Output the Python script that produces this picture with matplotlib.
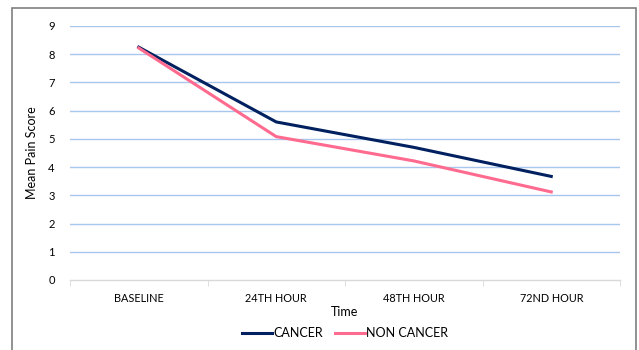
import matplotlib.pyplot as plt
from matplotlib.patches import Rectangle

plt.rcParams['font.family'] = ['Lato', 'DejaVu Sans']

# data
categories = ['BASELINE', '24TH HOUR', '48TH HOUR', '72ND HOUR']
cancer = [8.25, 5.6, 4.7, 3.67]
non_cancer = [8.22, 5.08, 4.22, 3.12]
yticks = list(range(0, 10))

W, H = 639, 350
fig = plt.figure(figsize=(W / 100, H / 100), dpi=100)
ax = fig.add_axes([70 / W, 1 - 280 / H, 550 / W, (280 - 26) / H])

# outer chart frame (bottom edge is cropped off in the reference)
fig.patches.append(Rectangle((12 / W, -0.05), 624 / W, 1.05 - 8.5 / H,
                             transform=fig.transFigure, fill=False,
                             edgecolor='#7f7f7f', linewidth=1.2))

x = list(range(len(categories)))
ax.plot(x, cancer, color='#002060', linewidth=2.2, label='CANCER', zorder=3)
ax.plot(x, non_cancer, color='#FF6A8F', linewidth=2.2, label='NON CANCER', zorder=3)

ax.set_xlim(-0.5, len(categories) - 0.5)
ax.set_ylim(0, 9)
ax.set_yticks(yticks)
ax.set_xticks(x)
ax.set_xticklabels(categories, fontsize=7.8)
ax.tick_params(axis='x', length=0, pad=9)
ax.tick_params(axis='y', length=0, pad=11, labelsize=8)

# category separators on the x axis
ax.set_xticks([i - 0.5 for i in range(len(categories) + 1)], minor=True)
ax.tick_params(axis='x', which='minor', length=4, color='#d9d9d9', direction='out')

for yv in yticks[1:]:
    ax.axhline(yv, color='#A9C6EC', linewidth=1.0, zorder=1)

for s in ['top', 'right', 'left']:
    ax.spines[s].set_visible(False)
ax.spines['bottom'].set_color('#d9d9d9')
ax.spines['bottom'].set_linewidth(1.0)

ax.set_xlabel('Time', fontsize=9, labelpad=2)
ax.set_ylabel('Mean Pain Score', fontsize=9, labelpad=7)

fig.legend(loc='center', bbox_to_anchor=(345 / W, 1 - 333 / H), ncol=2,
           frameon=False, fontsize=9, handlelength=2.4, handletextpad=0.1,
           columnspacing=1.0)

fig.savefig('out.png', dpi=100)
